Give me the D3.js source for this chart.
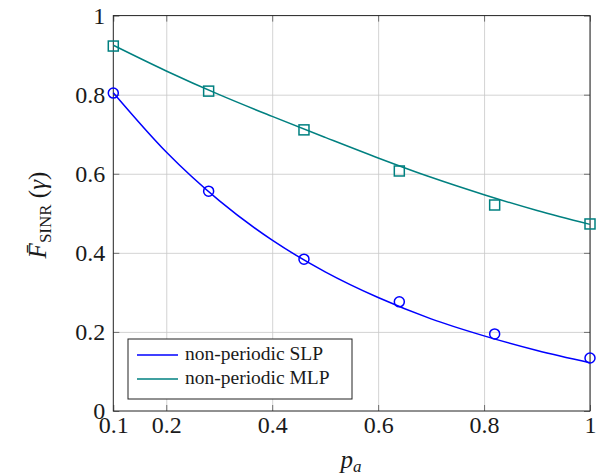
<!DOCTYPE html>
<html lang="en">
<head>
    <meta charset="UTF-8">
    <title>F_SINR vs p_a</title>
    <style>
        body { margin: 0; background: #fff; }
        text { font-family: "Liberation Serif", serif; }
    </style>
</head>
<body>
    <div id="chart"></div>
    <script src="https://d3js.org/d3.v7.min.js"></script>
    <script>
        const [width, height] = [600, 475]

        // marker positions (simulation points)
        const pMarks = [0.1, 0.28, 0.46, 0.64, 0.82, 1.0]
        const slpMarks = [0.804, 0.556, 0.384, 0.276, 0.195, 0.134]
        const mlpMarks = [0.923, 0.809, 0.711, 0.607, 0.521, 0.473]

        // analytic curves
        const pCurve = [0.1, 0.2, 0.3, 0.4, 0.5, 0.6, 0.7, 0.8, 0.9, 1.0]
        const slpCurve = [0.805, 0.655, 0.532, 0.432, 0.352, 0.287, 0.233, 0.19, 0.153, 0.122]
        const mlpCurve = [0.925, 0.86, 0.80, 0.745, 0.692, 0.640, 0.591, 0.547, 0.507, 0.472]

        const xTicks = [0.1, 0.2, 0.4, 0.6, 0.8, 1]
        const xTickLabels = ["0.1", "0.2", "0.4", "0.6", "0.8", "1"]
        const yTicks = [0, 0.2, 0.4, 0.6, 0.8, 1]
        const yTickLabels = ["0", "0.2", "0.4", "0.6", "0.8", "1"]

        const seriesNames = ["non-periodic SLP", "non-periodic MLP"]
        const colors = ["#0000ff", "#008080"]

        const m = {left: 113.3, right: 590, top: 15.6, bottom: 411}
        const x = d3.scaleLinear().domain([0.1, 1]).range([m.left, m.right])
        const y = d3.scaleLinear().domain([0, 1]).range([m.bottom, m.top])

        const svg = d3.select('#chart').append('svg')
            .attr('width', width)
            .attr('height', height)

        // grid
        svg.append('g')
            .attr('transform', `translate(0,${m.bottom})`)
            .call(d3.axisBottom(x).tickValues(xTicks.slice(1)).tickSize(-(m.bottom - m.top)).tickFormat(''))
            .call(g => g.select('.domain').remove())
            .call(g => g.selectAll('line').attr('stroke', '#c8c8c8').attr('stroke-width', 0.8))
        svg.append('g')
            .attr('transform', `translate(${m.left},0)`)
            .call(d3.axisLeft(y).tickValues(yTicks.slice(1, -1)).tickSize(-(m.right - m.left)).tickFormat(''))
            .call(g => g.select('.domain').remove())
            .call(g => g.selectAll('line').attr('stroke', '#c8c8c8').attr('stroke-width', 0.8))

        // inward ticks on all four sides
        const tickLen = 6
        const styleAxis = g => {
            g.select('.domain').remove()
            g.selectAll('line').attr('stroke', '#555').attr('stroke-width', 0.8)
            g.selectAll('text').attr('font-size', 24).attr('fill', '#1a1a1a')
        }
        svg.append('g')
            .attr('transform', `translate(0,${m.bottom})`)
            .call(d3.axisBottom(x).tickValues(xTicks).tickSizeInner(-tickLen).tickSizeOuter(0).tickPadding(5)
                .tickFormat((d, i) => xTickLabels[i]))
            .call(styleAxis)
        svg.append('g')
            .attr('transform', `translate(0,${m.top})`)
            .call(d3.axisTop(x).tickValues(xTicks).tickSizeInner(-tickLen).tickSizeOuter(0).tickFormat(''))
            .call(styleAxis)
        svg.append('g')
            .attr('transform', `translate(${m.left},0)`)
            .call(d3.axisLeft(y).tickValues(yTicks).tickSizeInner(-tickLen).tickSizeOuter(0).tickPadding(8)
                .tickFormat((d, i) => yTickLabels[i]))
            .call(styleAxis)
        svg.append('g')
            .attr('transform', `translate(${m.right},0)`)
            .call(d3.axisRight(y).tickValues(yTicks).tickSizeInner(-tickLen).tickSizeOuter(0).tickFormat(''))
            .call(styleAxis)

        // frame
        svg.append('rect')
            .attr('x', m.left).attr('y', m.top)
            .attr('width', m.right - m.left).attr('height', m.bottom - m.top)
            .attr('fill', 'none').attr('stroke', '#222').attr('stroke-width', 1)

        const line = d3.line().curve(d3.curveMonotoneX)
            .x(d => x(d[0])).y(d => y(d[1]))

        const curves = [slpCurve, mlpCurve]
        curves.forEach((c, k) => {
            svg.append('path')
                .datum(pCurve.map((p, i) => [p, c[i]]))
                .attr('d', line)
                .attr('fill', 'none')
                .attr('stroke', colors[k])
                .attr('stroke-width', 1.5)
        })

        // markers
        svg.append('g').selectAll('circle')
            .data(pMarks.map((p, i) => [p, slpMarks[i]]))
            .join('circle')
            .attr('cx', d => x(d[0])).attr('cy', d => y(d[1]))
            .attr('r', 5)
            .attr('fill', 'none').attr('stroke', colors[0]).attr('stroke-width', 1.5)
        const sq = 10
        svg.append('g').selectAll('rect')
            .data(pMarks.map((p, i) => [p, mlpMarks[i]]))
            .join('rect')
            .attr('x', d => x(d[0]) - sq / 2).attr('y', d => y(d[1]) - sq / 2)
            .attr('width', sq).attr('height', sq)
            .attr('fill', 'none').attr('stroke', colors[1]).attr('stroke-width', 1.5)

        // legend
        const lg = svg.append('g')
        lg.append('rect')
            .attr('x', 128).attr('y', 339).attr('width', 224).attr('height', 60)
            .attr('fill', '#fff').attr('stroke', '#222').attr('stroke-width', 1)
        seriesNames.forEach((name, k) => {
            const ly = 355 + k * 24
            lg.append('line')
                .attr('x1', 137).attr('x2', 178).attr('y1', ly).attr('y2', ly)
                .attr('stroke', colors[k]).attr('stroke-width', 1.5)
            lg.append('text')
                .attr('x', 185).attr('y', ly + 5)
                .attr('font-size', 19.5)
                .attr('fill', '#1a1a1a')
                .text(name)
        })

        // axis labels
        svg.append('text')
            .attr('x', 351).attr('y', 468)
            .attr('text-anchor', 'middle')
            .attr('font-size', 25)
            .attr('fill', '#1a1a1a')
            .call(t => {
                t.append('tspan').attr('font-style', 'italic').text('p')
                t.append('tspan').attr('font-style', 'italic').attr('font-size', 17).attr('dy', 4).text('a')
            })

        svg.append('text')
            .attr('transform', 'translate(46,215) rotate(-90)')
            .attr('text-anchor', 'middle')
            .attr('font-size', 25)
            .attr('fill', '#1a1a1a')
            .call(t => {
                t.append('tspan').attr('font-style', 'italic').text('F\u0304')
                t.append('tspan').attr('font-size', 17).attr('dy', 5).text('SINR')
                t.append('tspan').attr('dy', -5).text(' (')
                t.append('tspan').attr('font-style', 'italic').text('\u03b3')
                t.append('tspan').text(')')
            })
    </script>
</body>
</html>
